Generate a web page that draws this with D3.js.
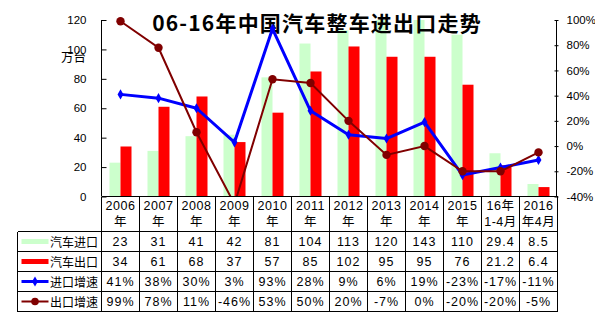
<!DOCTYPE html>
<html><head><meta charset="utf-8">
<script src="https://cdn.jsdelivr.net/npm/d3@7"></script>
<style>
html,body{margin:0;padding:0;background:#fff;}
svg{display:block;}
</style></head>
<body>
<svg id="chart" width="595" height="322"></svg>
<script>
const categories = ["2006","2007","2008","2009","2010","2011","2012","2013","2014","2015","16年1-4月","2016年4月"];
const headerLine1 = ["2006","2007","2008","2009","2010","2011","2012","2013","2014","2015","16年","2016"];
const headerLine2 = ["年","年","年","年","年","年","年","年","年","年","1-4月","年4月"];
const importVol = [23,31,41,42,81,104,113,120,143,110,29.4,8.5];
const exportVol = [34,61,68,37,57,85,102,95,95,76,21.2,6.4];
const importGrowth = [41,38,30,3,93,28,9,6,19,-23,-17,-11];
const exportGrowth = [99,78,11,-46,53,50,20,-7,0,-20,-20,-5];
const leftTicks = [0,20,40,60,80,100,120];
const rightTicks = [-40,-20,0,20,40,60,80,100];
const seriesNames = ["汽车进口","汽车出口","进口增速","出口增速"];
const title = "06-16年中国汽车整车进出口走势";
const unitLabel = "万台";

const svg = d3.select("#chart");
const X0 = 101.5, X1 = 557.5, Y0 = 196.5, Y1 = 20;
const x = d3.scaleBand().domain(categories).range([X0, X1]).padding(0);
const xi = d3.scaleBand().domain(["imp","exp"]).range([0, x.bandwidth()]).paddingInner(0).paddingOuter(0.727);
const yL = d3.scaleLinear().domain([0,120]).range([Y0, Y1]);
const yR = d3.scaleLinear().domain([-40,100]).range([Y0, Y1]);

const colImp = "#CCFFCC", colExp = "#FF0000", colIG = "#0000FF", colEG = "#800000";
const numFont = "'Liberation Sans', Arial, sans-serif";
const cjkFont = "'Noto Sans CJK SC', sans-serif";

const defs = svg.append("defs");
defs.append("clipPath").attr("id","barclip")
  .append("rect").attr("x", X0).attr("y", Y1).attr("width", X1 - X0).attr("height", Y0 - Y1);
defs.append("clipPath").attr("id","lineclip")
  .append("rect").attr("x", X0).attr("y", 0).attr("width", X1 - X0).attr("height", Y0);

const bars = svg.append("g").attr("clip-path","url(#barclip)");

// bars
bars.selectAll("rect.imp").data(categories).join("rect").attr("class","imp")
  .attr("x", (c) => x(c) + xi("imp")).attr("width", xi.bandwidth())
  .attr("y", (c,i) => yL(importVol[i])).attr("height", (c,i) => Y0 - yL(importVol[i]))
  .attr("fill", colImp);
bars.selectAll("rect.exp").data(categories).join("rect").attr("class","exp")
  .attr("x", (c) => x(c) + xi("exp")).attr("width", xi.bandwidth())
  .attr("y", (c,i) => yL(exportVol[i])).attr("height", (c,i) => Y0 - yL(exportVol[i]))
  .attr("fill", colExp);

// title (over bars)
svg.append("text").attr("x", 317).attr("y", 31).attr("text-anchor","middle")
  .attr("font-family", cjkFont).attr("font-weight","bold").attr("font-size", 21)
  .attr("letter-spacing", 1.2).attr("fill","#000").text(title);

const plot = svg.append("g").attr("clip-path","url(#lineclip)");
const cx = (c) => x(c) + x.bandwidth()/2;
// lines
const lineI = d3.line().x((d,i) => cx(categories[i])).y((d) => yR(d));
plot.append("path").datum(importGrowth).attr("d", lineI).attr("fill","none")
  .attr("stroke", colIG).attr("stroke-width", 3).attr("stroke-linejoin","round");
plot.selectAll("path.dia").data(importGrowth).join("path").attr("class","dia")
  .attr("d", d3.symbol().type(d3.symbolDiamond).size(30))
  .attr("transform", (d,i) => `translate(${cx(categories[i])},${yR(d)})`)
  .attr("fill", colIG);
plot.append("path").datum(exportGrowth).attr("d", lineI).attr("fill","none")
  .attr("stroke", colEG).attr("stroke-width", 2);
plot.selectAll("circle.eg").data(exportGrowth).join("circle").attr("class","eg")
  .attr("cx", (d,i) => cx(categories[i])).attr("cy", (d) => yR(d)).attr("r", 4.2)
  .attr("fill", colEG);

// axes
const axL = svg.append("g").attr("transform", `translate(${X0},0)`)
  .call(d3.axisLeft(yL).tickValues(leftTicks).tickSize(-5).tickPadding(15).tickFormat(d3.format("d")));
axL.select(".domain").attr("d", `M0,${Y1}V${Y0}`).attr("stroke","#000");
axL.selectAll("text").attr("font-family", numFont).attr("font-size", 11.5).attr("fill","#000");

const axR = svg.append("g").attr("transform", `translate(556.5,0)`)
  .call(d3.axisRight(yR).tickValues(rightTicks).tickSize(2).tickPadding(8).tickFormat((d) => d + "%"));
axR.select(".domain").attr("d", `M0,${Y1}V${Y0}`).attr("stroke","#000");
axR.selectAll(".tick line").attr("x1", -2);
axR.selectAll("text").attr("font-family", numFont).attr("font-size", 11.5).attr("fill","#000");

svg.append("text").attr("x", 61).attr("y", 56).attr("dominant-baseline","central")
  .attr("font-family", cjkFont).attr("font-size", 12.5).attr("fill","#000").text(unitLabel);

// table
const T = svg.append("g");
const rowTop = [196.5, 231.5, 251.5, 271.5, 291.5, 311.5];
const LX = 17.5;
const stroke = (sel) => sel.attr("stroke","#000").attr("stroke-width",1).attr("shape-rendering","crispEdges");
T.append("line").attr("x1", X0).attr("x2", X1).attr("y1", Y0).attr("y2", Y0).call(stroke);
for (let r = 1; r < rowTop.length; r++) {
  T.append("line").attr("x1", LX).attr("x2", X1).attr("y1", rowTop[r]).attr("y2", rowTop[r]).call(stroke);
}
T.selectAll("line.col").data(categories.concat(["end"])).join("line").attr("class","col")
  .attr("x1", (c,i) => i < categories.length ? x(c) : X1).attr("x2", (c,i) => i < categories.length ? x(c) : X1)
  .attr("y1", Y0).attr("y2", rowTop[5]).call(stroke);
T.append("line").attr("x1", LX).attr("x2", LX).attr("y1", rowTop[1]).attr("y2", rowTop[5]).call(stroke);

T.selectAll("text.h1").data(headerLine1).join("text").attr("class","h1")
  .attr("x", (d,i) => cx(categories[i])).attr("y", 205.5).attr("text-anchor","middle").attr("dominant-baseline","central")
  .attr("font-family", "'Liberation Sans','Noto Sans CJK SC',sans-serif").attr("font-size", 12.5).attr("letter-spacing", 0.5).text((d) => d);
T.selectAll("text.h2").data(headerLine2).join("text").attr("class","h2")
  .attr("x", (d,i) => cx(categories[i])).attr("y", 221.5).attr("text-anchor","middle").attr("dominant-baseline","central")
  .attr("font-family", "'Liberation Sans','Noto Sans CJK SC',sans-serif").attr("font-size", 12.5).attr("letter-spacing", 0.5).text((d) => d);

const rowsData = [
  importVol.map(String),
  exportVol.map(String),
  importGrowth.map((d) => d + "%"),
  exportGrowth.map((d) => d + "%")
];
rowsData.forEach((row, r) => {
  const yc = (rowTop[r+1] + rowTop[r+2]) / 2;
  T.selectAll(`text.v${r}`).data(row).join("text").attr("class", `v${r}`)
    .attr("x", (d,i) => cx(categories[i])).attr("y", yc).attr("text-anchor","middle").attr("dominant-baseline","central")
    .attr("font-family", numFont).attr("font-size", 12.5).attr("letter-spacing", 1).text((d) => d);
  T.append("text").attr("x", 98).attr("y", yc).attr("text-anchor","end").attr("dominant-baseline","central")
    .attr("font-family", cjkFont).attr("font-size", 12).text(seriesNames[r]);
});
const k1 = (rowTop[1]+rowTop[2])/2, k2 = (rowTop[2]+rowTop[3])/2, k3 = (rowTop[3]+rowTop[4])/2, k4 = (rowTop[4]+rowTop[5])/2;
T.append("rect").attr("x", 21.5).attr("y", k1 - 2.5).attr("width", 27).attr("height", 5).attr("fill", colImp);
T.append("rect").attr("x", 21.5).attr("y", k2 - 2.5).attr("width", 27).attr("height", 5).attr("fill", colExp);
T.append("line").attr("x1", 21.5).attr("x2", 48.5).attr("y1", k3).attr("y2", k3).attr("stroke", colIG).attr("stroke-width", 3);
T.append("path").attr("d", d3.symbol().type(d3.symbolDiamond).size(30)).attr("transform", `translate(35,${k3})`).attr("fill", colIG);
T.append("line").attr("x1", 21.5).attr("x2", 48.5).attr("y1", k4).attr("y2", k4).attr("stroke", colEG).attr("stroke-width", 2);
T.append("circle").attr("cx", 35).attr("cy", k4).attr("r", 3.8).attr("fill", colEG);
</script>
</body></html>
